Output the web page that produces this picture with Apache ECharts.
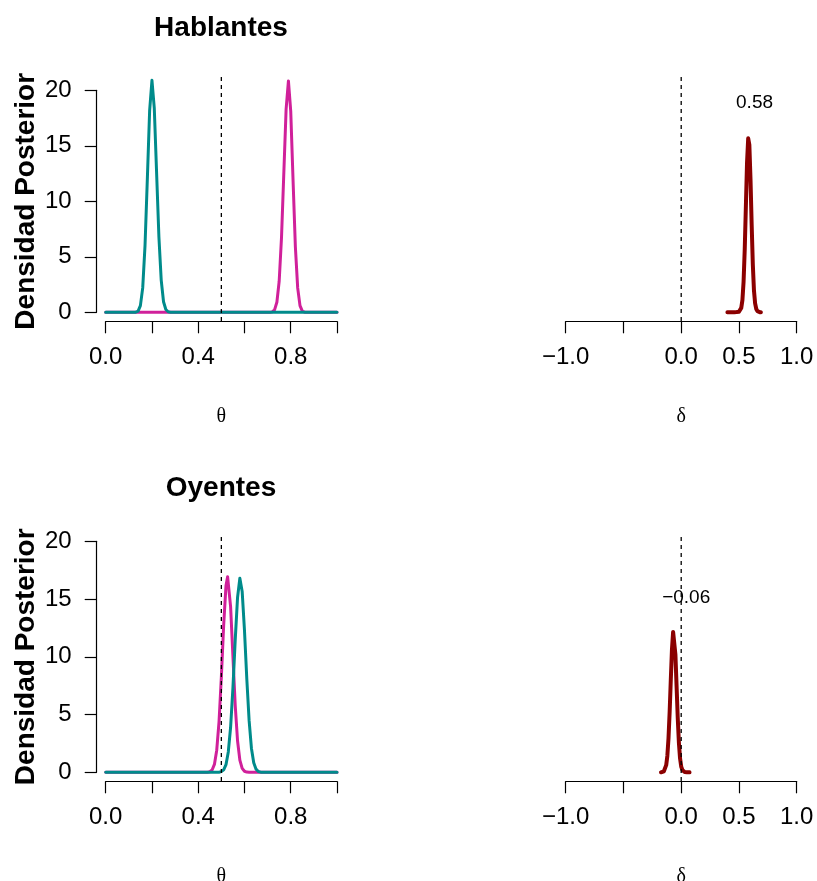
<!DOCTYPE html>
<html><head><meta charset="utf-8">
<script src="https://cdn.jsdelivr.net/npm/echarts@6/dist/echarts.min.js"></script>
<style>html,body{margin:0;padding:0;background:#fff}#c{width:817px;height:881px}</style>
</head><body><div id="c"></div>
<script>
// ---- text ----
const panelTitles = ['Hablantes', 'Oyentes'];
const yAxisName = 'Densidad Posterior';
const thetaName = 'θ';
const deltaName = 'δ';
const thetaTickLabels = ['0.0', '', '0.4', '', '0.8', ''];
const deltaTickLabels = ['\u22121.0', '', '0.0', '0.5', '1.0'];
const meanLabels = ['0.58', '\u22120.06'];
const meanLabelX = [0.635, 0.043];
const meanLabelY = [18.9, 15.15];
const thetaRef = 0.5;
const deltaRef = 0;
const refExtentTop = [-0.78, 21.38];
const refExtentBottom = [-0.75, 20.55];

// ---- Hablantes: posterior densities of theta ----
const habMagX = [0, 0.71, 0.72, 0.73, 0.74, 0.75, 0.76, 0.77, 0.78, 0.79, 0.80, 0.81, 0.82, 0.83, 0.84, 0.85, 0.86, 0.87, 1];
const habMagY = [0, 0, 0.04, 0.22, 0.9, 2.8, 6.7, 12.5, 18.3, 20.84, 18.1, 11.9, 5.9, 2.2, 0.6, 0.1, 0.01, 0, 0];
const habTealX = [0, 0.12, 0.13, 0.14, 0.15, 0.16, 0.17, 0.18, 0.19, 0.20, 0.21, 0.22, 0.23, 0.24, 0.25, 0.26, 0.27, 0.28, 1];
const habTealY = [0, 0, 0.01, 0.1, 0.6, 2.2, 6.0, 12.0, 18.2, 20.9, 18.4, 12.6, 6.8, 2.9, 0.95, 0.25, 0.05, 0.01, 0];
// ---- Hablantes: posterior density of delta ----
const habDeltaX = [0.40, 0.42, 0.44, 0.46, 0.48, 0.50, 0.51, 0.52, 0.53, 0.54, 0.55, 0.56, 0.57, 0.58, 0.583, 0.59, 0.60, 0.61, 0.62, 0.63, 0.64, 0.65, 0.66, 0.67, 0.68, 0.69];
const habDeltaY = [0, 0, 0.01, 0.01, 0.02, 0.05, 0.12, 0.4, 1.1, 2.75, 5.65, 9.58, 13.5, 15.67, 15.8, 15.09, 12.0, 7.93, 4.33, 1.96, 0.8, 0.3, 0.1, 0.04, 0.01, 0];

// ---- Oyentes: posterior densities of theta ----
const oyeMagX = [0, 0.44, 0.45, 0.46, 0.47, 0.48, 0.49, 0.50, 0.51, 0.52, 0.527, 0.53, 0.54, 0.55, 0.56, 0.57, 0.58, 0.59, 0.60, 0.61, 0.62, 1];
const oyeMagY = [0, 0.01, 0.05, 0.20, 0.68, 1.91, 4.38, 8.25, 12.73, 16.14, 16.94, 16.79, 14.34, 10.05, 5.78, 2.73, 1.06, 0.34, 0.09, 0.02, 0, 0];
const oyeTealX = [0, 0.49, 0.50, 0.51, 0.52, 0.53, 0.54, 0.55, 0.56, 0.57, 0.58, 0.59, 0.60, 0.61, 0.62, 0.63, 0.64, 0.65, 0.66, 0.67, 0.68, 1];
const oyeTealY = [0, 0.01, 0.06, 0.21, 0.66, 1.76, 3.90, 7.29, 11.46, 15.13, 16.8, 15.66, 12.28, 8.10, 4.49, 2.09, 0.82, 0.27, 0.07, 0.01, 0, 0];
// ---- Oyentes: posterior density of delta ----
const oyeDeltaX = [-0.175, -0.16, -0.15, -0.14, -0.13, -0.12, -0.11, -0.10, -0.09, -0.08, -0.07, -0.066, -0.06, -0.05, -0.04, -0.03, -0.02, -0.01, 0.00, 0.01, 0.02, 0.03, 0.05, 0.072];
const oyeDeltaY = [0, 0.03, 0.09, 0.24, 0.62, 1.42, 2.94, 5.23, 8.03, 10.64, 12.15, 12.3, 11.98, 10.18, 7.46, 4.72, 2.57, 1.21, 0.5, 0.2, 0.08, 0.03, 0.01, 0];

// ---- styling ----
const MAG = '#D0209A', TEAL = '#008B8B', DRED = '#8B0000';
const FONT = '"Liberation Sans", Arial, Helvetica, sans-serif';
const SERIF = '"Liberation Serif", "DejaVu Serif", serif';

const pairs = (xs, ys) => xs.map((x, i) => [x, ys[i]]);

const grids = [
  {left: 105.7, top: 90.3, width: 231.3, height: 222},
  {left: 565.7, top: 90.3, width: 231, height: 222},
  {left: 105.7, top: 541.3, width: 231.3, height: 231},
  {left: 565.7, top: 541.3, width: 231, height: 231}
].map(g => Object.assign(g, {containLabel: false, outerBoundsMode: 'none'}));

const axisLineStyle = {color: '#000', width: 1.2};
function thetaAxis(gi) {
  return {
    gridIndex: gi, type: 'value', min: 0, max: 1, interval: 0.2, offset: 9, position: 'bottom',
    axisLine: {show: true, onZero: false, lineStyle: axisLineStyle},
    axisTick: {show: true, length: 12, lineStyle: axisLineStyle},
    axisLabel: {show: true, margin: 24, fontSize: 24, color: '#000', fontFamily: FONT,
      showMinLabel: true, showMaxLabel: true,
      formatter: v => thetaTickLabels[Math.round(v / 0.2)] || ''},
    splitLine: {show: false},
    name: thetaName, nameLocation: 'middle', nameGap: 85,
    nameTextStyle: {fontSize: 20, fontFamily: SERIF, color: '#000'}
  };
}
function deltaAxis(gi) {
  return {
    gridIndex: gi, type: 'value', min: -1, max: 1, interval: 0.5, offset: 9, position: 'bottom',
    axisLine: {show: true, onZero: false, lineStyle: axisLineStyle},
    axisTick: {show: true, length: 12, lineStyle: axisLineStyle},
    axisLabel: {show: true, margin: 24, fontSize: 24, color: '#000', fontFamily: FONT,
      showMinLabel: true, showMaxLabel: true,
      formatter: v => deltaTickLabels[Math.round((v + 1) / 0.5)] || ''},
    splitLine: {show: false},
    name: deltaName, nameLocation: 'middle', nameGap: 85,
    nameTextStyle: {fontSize: 20, fontFamily: SERIF, color: '#000'}
  };
}
function densAxis(gi) {
  return {
    gridIndex: gi, type: 'value', min: 0, max: 20, interval: 5, offset: 9, position: 'left',
    axisLine: {show: true, onZero: false, lineStyle: axisLineStyle},
    axisTick: {show: true, length: 12, lineStyle: axisLineStyle},
    axisLabel: {show: true, margin: 25, fontSize: 24, color: '#000', fontFamily: FONT},
    splitLine: {show: false},
    name: yAxisName, nameLocation: 'middle', nameGap: 56, nameRotate: 90,
    nameTextStyle: {fontSize: 28, fontWeight: 'bold', fontFamily: FONT, color: '#000'}
  };
}
function hiddenAxis(gi) {
  return {gridIndex: gi, type: 'value', min: 0, max: 20, show: false, splitLine: {show: false}};
}

function curve(gi, xs, ys, color, width) {
  return {type: 'line', xAxisIndex: gi, yAxisIndex: gi, data: pairs(xs, ys),
    showSymbol: false, symbol: 'none', clip: false, smooth: false,
    lineStyle: {color: color, width: width, join: 'round', cap: 'round'}, z: 2};
}
function refLine(gi, x, ext) {
  return {type: 'line', xAxisIndex: gi, yAxisIndex: gi, data: [[x, ext[0]], [x, ext[1]]],
    showSymbol: false, symbol: 'none', clip: false,
    lineStyle: {color: '#000', width: 1.3, type: [4, 4]}, z: 5};
}
function meanText(gi, k) {
  return {type: 'scatter', xAxisIndex: gi, yAxisIndex: gi, symbolSize: 1,
    data: [[meanLabelX[k], meanLabelY[k]]], z: 6, clip: false,
    itemStyle: {opacity: 0},
    label: {show: true, position: 'inside', formatter: () => meanLabels[k], opacity: 1,
      color: '#000', fontSize: 19, fontFamily: FONT, textBorderWidth: 0}};
}

const option = {
  animation: false,
  backgroundColor: '#fff',
  title: [
    {text: panelTitles[0], left: 221, top: 14, textAlign: 'center', padding: 0,
      textStyle: {fontSize: 28, fontWeight: 'bold', color: '#000', fontFamily: FONT}},
    {text: panelTitles[1], left: 221, top: 474, textAlign: 'center', padding: 0,
      textStyle: {fontSize: 28, fontWeight: 'bold', color: '#000', fontFamily: FONT}}
  ],
  grid: grids,
  xAxis: [thetaAxis(0), deltaAxis(1), thetaAxis(2), deltaAxis(3)],
  yAxis: [densAxis(0), hiddenAxis(1), densAxis(2), hiddenAxis(3)],
  series: [
    curve(0, habMagX, habMagY, MAG, 3),
    curve(0, habTealX, habTealY, TEAL, 3),
    refLine(0, thetaRef, refExtentTop),
    curve(1, habDeltaX, habDeltaY, DRED, 4),
    refLine(1, deltaRef, refExtentTop),
    meanText(1, 0),
    curve(2, oyeMagX, oyeMagY, MAG, 3),
    curve(2, oyeTealX, oyeTealY, TEAL, 3),
    refLine(2, thetaRef, refExtentBottom),
    curve(3, oyeDeltaX, oyeDeltaY, DRED, 4),
    refLine(3, deltaRef, refExtentBottom),
    meanText(3, 1)
  ]
};
const chart = echarts.init(document.getElementById('c'), null, {renderer: 'canvas'});
chart.setOption(option);
</script></body></html>
